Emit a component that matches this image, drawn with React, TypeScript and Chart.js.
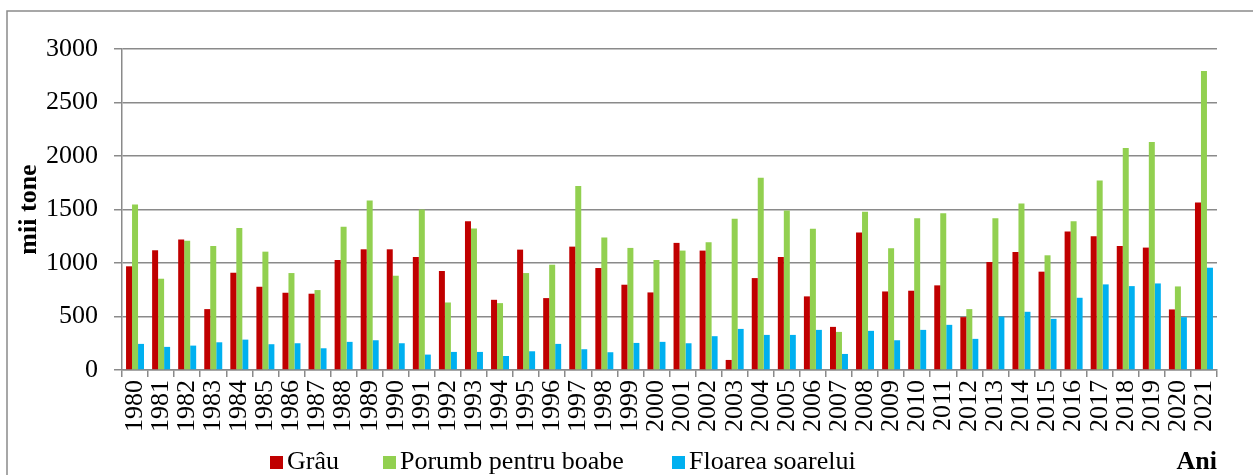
import React, { useEffect, useRef } from 'react';
import { Chart, registerables } from 'chart.js';

Chart.register(...registerables);

const years = [
  '1980', '1981', '1982', '1983', '1984', '1985', '1986', '1987', '1988', '1989',
  '1990', '1991', '1992', '1993', '1994', '1995', '1996', '1997', '1998', '1999',
  '2000', '2001', '2002', '2003', '2004', '2005', '2006', '2007', '2008', '2009',
  '2010', '2011', '2012', '2013', '2014', '2015', '2016', '2017', '2018', '2019',
  '2020', '2021',
];

const grau = [
  969, 1119, 1219, 569, 909, 778, 722, 713, 1028, 1128,
  1128, 1056, 925, 1391, 656, 1125, 672, 1153, 953, 797,
  725, 1188, 1116, 94, 859, 1056, 688, 403, 1284, 734,
  741, 791, 494, 1009, 1103, 919, 1294, 1250, 1159, 1144,
  566, 1566,
];

const porumb = [
  1547, 853, 1209, 1159, 1328, 1106, 906, 747, 1338, 1584,
  881, 1500, 631, 1322, 625, 906, 984, 1719, 1238, 1141,
  1028, 1116, 1194, 1413, 1797, 1491, 1319, 356, 1478, 1138,
  1419, 1466, 569, 1419, 1556, 1072, 1391, 1772, 2075, 2131,
  781, 2794,
];

const floarea = [
  244, 216, 228, 259, 284, 241, 250, 203, 263, 278,
  250, 144, 169, 169, 131, 175, 244, 194, 166, 253,
  263, 250, 316, 384, 328, 328, 375, 150, 366, 278,
  375, 422, 291, 500, 544, 478, 675, 800, 784, 809,
  494, 956,
];

const seriesNames = ['Grâu', 'Porumb pentru boabe', 'Floarea soarelui'];
const seriesColors = ['#C00000', '#92D050', '#00B0F0'];
const yTickStep = 500;
const yMax = 3000;
const yTitle = 'mii tone';
const xTitle = 'Ani';

const FONT = '"Liberation Serif", "Times New Roman", serif';
const GRID = '#8a8a8a';
const legendX = [270, 383, 672];

const framePlugin = {
  id: 'frameAndLegend',
  beforeDraw(chart: any) {
    const ctx = chart.ctx;
    ctx.save();
    ctx.fillStyle = '#ffffff';
    ctx.fillRect(0, 0, chart.width, chart.height);
    ctx.strokeStyle = GRID;
    ctx.lineWidth = 1.5;
    ctx.strokeRect(7, 11, chart.width + 20, chart.height + 20);
    ctx.restore();
  },
  afterDraw(chart: any) {
    const ctx = chart.ctx;
    ctx.save();
    ctx.font = `26px ${FONT}`;
    ctx.textBaseline = 'middle';
    ctx.textAlign = 'left';
    chart.data.datasets.forEach((ds: any, i: number) => {
      const x = legendX[i];
      ctx.fillStyle = ds.backgroundColor;
      ctx.fillRect(x, 456, 13, 13);
      ctx.fillStyle = '#000';
      ctx.fillText(ds.label, x + 17, 462);
    });
    ctx.restore();
  },
};

export default function App() {
  const ref = useRef<HTMLCanvasElement>(null);

  useEffect(() => {
    document.body.style.margin = '0';
    const canvas = ref.current!;
    const chart = new Chart(canvas, {
      type: 'bar',
      data: {
        labels: years,
        datasets: [
          { label: seriesNames[0], data: grau, backgroundColor: seriesColors[0] },
          { label: seriesNames[1], data: porumb, backgroundColor: seriesColors[1] },
          { label: seriesNames[2], data: floarea, backgroundColor: seriesColors[2] },
        ],
      },
      options: {
        animation: false,
        responsive: false,
        devicePixelRatio: 1,
        layout: { padding: { top: 49, right: 36, bottom: 0, left: 0 } },
        datasets: { bar: { categoryPercentage: 0.69, barPercentage: 1.0, borderWidth: 0 } },
        plugins: {
          legend: { display: false },
          tooltip: { enabled: false },
        },
        scales: {
          x: {
            ticks: {
              font: { family: FONT, size: 26 },
              color: '#000',
              maxRotation: 90,
              minRotation: 90,
              autoSkip: false,
              padding: 3,
            },
            grid: {
              offset: true,
              drawOnChartArea: false,
              drawTicks: true,
              tickLength: 7,
              color: GRID,
              lineWidth: 1.5,
            },
            border: { color: GRID, width: 1.5 },
            title: {
              display: true,
              text: xTitle,
              align: 'end',
              color: '#000',
              font: { family: FONT, size: 26, weight: 'bold', lineHeight: 1 },
              padding: 0,
            },
            afterFit: (s: any) => {
              s.height = 105;
            },
          },
          y: {
            min: 0,
            max: yMax,
            ticks: {
              stepSize: yTickStep,
              font: { family: FONT, size: 26 },
              color: '#000',
              padding: 16,
              callback: (v: any) => String(v),
            },
            grid: {
              color: GRID,
              lineWidth: 1.5,
              tickLength: 8,
              drawTicks: true,
            },
            border: { color: GRID, width: 1.5 },
            title: {
              display: true,
              text: yTitle,
              color: '#000',
              font: { family: FONT, size: 26, weight: 'bold', lineHeight: 1.2 },
              padding: { top: 14, bottom: 0 },
            },
            afterFit: (s: any) => {
              s.width = 122;
            },
          },
        },
      },
      plugins: [framePlugin],
    });
    return () => chart.destroy();
  }, []);

  return (
    <div style={{ position: 'absolute', left: 0, top: 0, width: 1253, height: 475 }}>
      <canvas ref={ref} width={1253} height={475} />
    </div>
  );
}
